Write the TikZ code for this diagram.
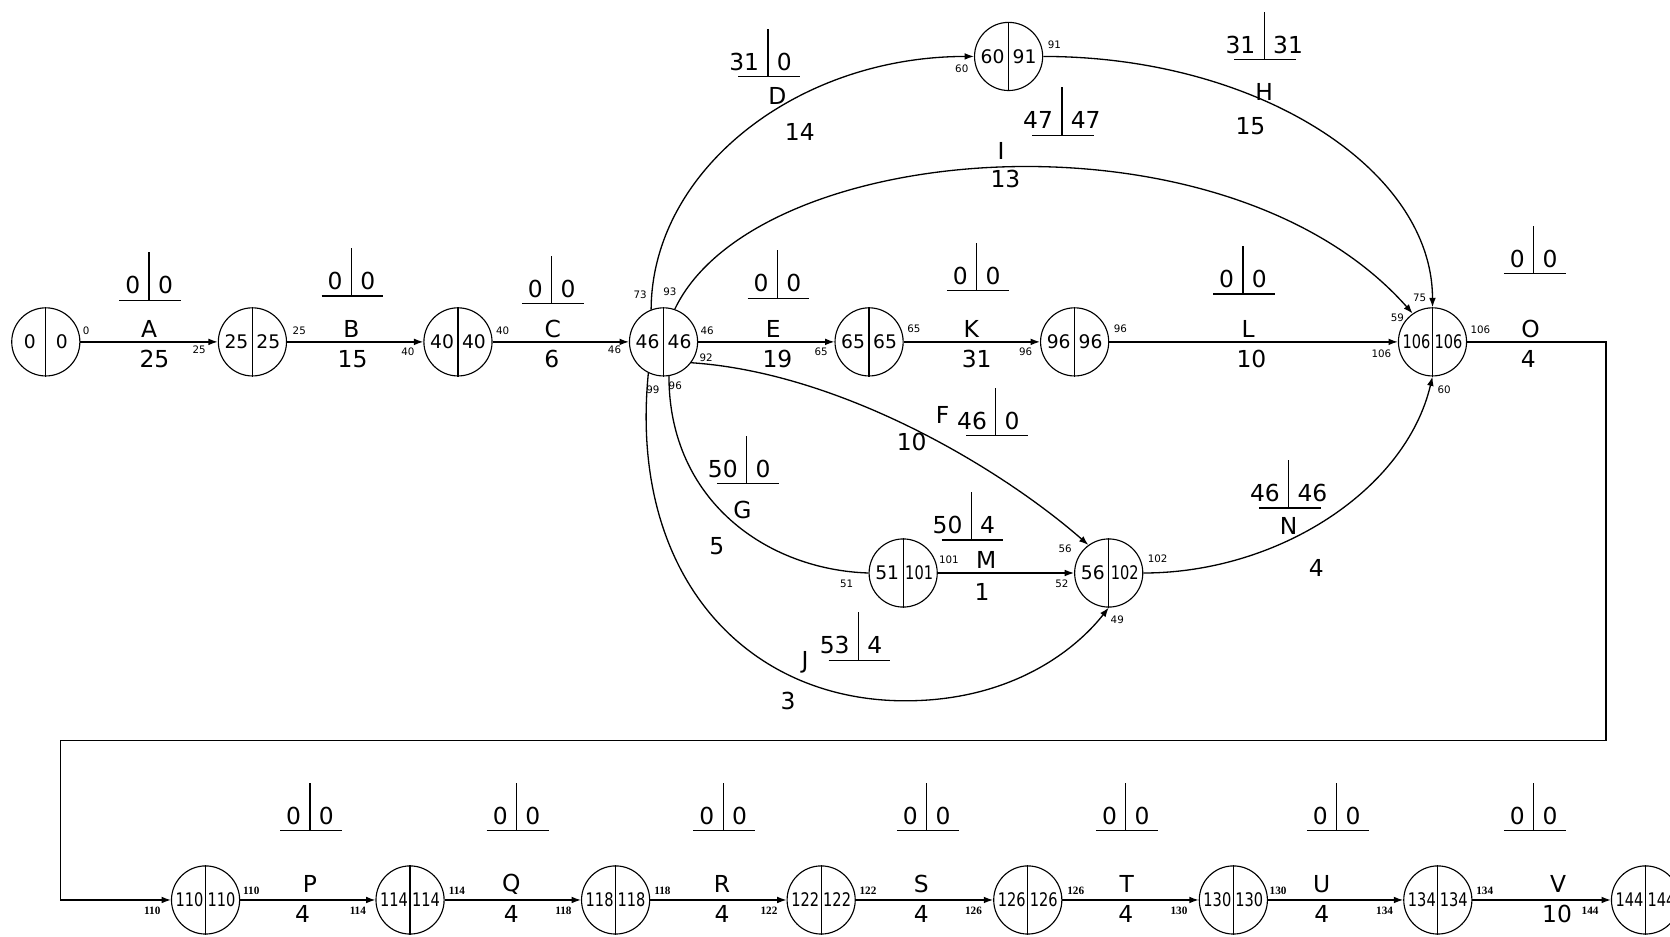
\documentclass[tikz,border=0pt]{standalone}
\usepackage{fontspec}
\setmainfont{DejaVu Sans}
\newfontfamily\smallserif{Liberation Serif}
\usetikzlibrary{arrows.meta}
\tikzset{
 ln/.style={line width=0.7pt},
 arr/.style={ln, -{Latex[length=5pt,width=3.6pt]}},
 ev/.style={circle, draw, line width=0.6pt, minimum size=1.28cm, inner sep=0pt},
 evnum/.style={inner sep=0pt, font=\fontsize{10}{10}\selectfont},
 lbl/.style={inner sep=0pt, font=\fontsize{12.5}{13}\selectfont},
 tnum/.style={inner sep=0pt, font=\fontsize{12.5}{13}\selectfont},
 sm/.style={inner sep=0pt, font=\fontsize{5.5}{6}\selectfont},
 smb/.style={inner sep=0pt, font=\smallserif\bfseries\fontsize{6}{6}\selectfont},
}
\newcommand\nw[1]{\scalebox{0.78}[1]{#1}}
\newcommand\evnode[5]{%
 \node[ev] (#1) at (#2,#3) {};
 \draw[ln] (#1.north) -- (#1.south);
 \node[evnum] (#1-l) at ([xshift=-0.3cm]#1.center) {#4};
 \node[evnum] (#1-r) at ([xshift=0.3cm]#1.center) {#5};
}
\newcommand\tallyat[5]{%
 \coordinate (#1) at (#2,#3);
 \draw[ln] ([xshift=-0.56cm]#1) -- ([xshift=0.6cm]#1);
 \draw[ln] (#1) -- ([yshift=0.9cm]#1);
 \node[tnum, anchor=base east] (#1-l) at ([xshift=-0.16cm,yshift=0.12cm]#1) {#4};
 \node[tnum, anchor=base west] (#1-r) at ([xshift=0.16cm,yshift=0.12cm]#1) {#5};
}
\begin{document}
\begin{tikzpicture}[x=0.02cm,y=-0.02cm]
\useasboundingbox (0,0) rectangle (1568,879);
% ---- events
\evnode{n0}{43}{321}{0}{0}
\evnode{n25}{237}{321}{25}{25}
\evnode{n40}{430}{321}{40}{40}
\evnode{n46}{623}{321}{46}{46}
\evnode{n65}{816}{321}{65}{65}
\evnode{n96}{1009}{321}{96}{96}
\evnode{n106}{1345}{321}{\nw{106}}{\nw{106}}
\evnode{n60}{947}{53}{60}{91}
\evnode{n51}{848}{538}{51}{\nw{101}}
\evnode{n56}{1041}{538}{56}{\nw{102}}
\evnode{n110}{193}{845}{\nw{110}}{\nw{110}}
\evnode{n114}{385}{845}{\nw{114}}{\nw{114}}
\evnode{n118}{578}{845}{\nw{118}}{\nw{118}}
\evnode{n122}{771}{845}{\nw{122}}{\nw{122}}
\evnode{n126}{965}{845}{\nw{126}}{\nw{126}}
\evnode{n130}{1158}{845}{\nw{130}}{\nw{130}}
\evnode{n134}{1350}{845}{\nw{134}}{\nw{134}}
\evnode{n144}{1545}{845}{\nw{144}}{\nw{144}}
% ---- straight activities
\draw[arr] (n0.east) -- (n25.west);
\draw[arr] (n25.east) -- (n40.west);
\draw[arr] (n40.east) -- (n46.west);
\draw[arr] (n46.east) -- (n65.west);
\draw[arr] (n65.east) -- (n96.west);
\draw[arr] (n96.east) -- (n106.west);
\draw[arr] (n51.east) -- (n56.west);
\draw[arr] (n110.east) -- (n114.west);
\draw[arr] (n114.east) -- (n118.west);
\draw[arr] (n118.east) -- (n122.west);
\draw[arr] (n122.east) -- (n126.west);
\draw[arr] (n126.east) -- (n130.west);
\draw[arr] (n130.east) -- (n134.west);
\draw[arr] (n134.east) -- (n144.west);
% ---- O (wrap-around)
\coordinate (c1) at (1508,321);
\coordinate (c2) at (1508,695);
\coordinate (c3) at (57,695);
\coordinate (c4) at (57,845);
\draw[arr] (n106.east) -- (c1) -- (c2) -- (c3) -- (c4) -- (n110.west);
% ---- curved activities
\draw[arr] (n46.111) .. controls (612,160) and (748,53) .. (n60.west);
\draw[arr] (n60.east) .. controls (1181,53) and (1345,159) .. (n106.north);
\draw[arr] (n46.71) .. controls (710,130) and (1150,95) .. (n106.125);
\draw[arr] (n46.-37) .. controls (790,350) and (940,440) .. (n56.126);
\draw[ln] (n46.-81) .. controls (628,470) and (720,535) .. (n51.west);
\coordinate (jb) at (850,658);
\draw[arr] (n46.-116) .. controls (590,540) and (700,658) .. (jb) .. controls (950,658) and (1010,610) .. (n56.south);
\draw[arr] (n56.east) .. controls (1200,538) and (1320,460) .. (n106.south);
% ---- tallies
\tallyat{tA}{140}{282}{0}{0}
\tallyat{tB}{330}{278}{0}{0}
\tallyat{tC}{518}{285}{0}{0}
\tallyat{tE}{730}{280}{0}{0}
\tallyat{tK}{917}{273}{0}{0}
\tallyat{tL}{1167}{276}{0}{0}
\tallyat{tO}{1440}{257}{0}{0}
\tallyat{tD}{721}{72}{31}{0}
\tallyat{tH}{1187}{56}{31}{31}
\tallyat{tI}{997}{127}{47}{47}
\tallyat{tF}{935}{409}{46}{0}
\tallyat{tG}{701}{454}{50}{0}
\tallyat{tM}{912}{507}{50}{4}
\tallyat{tJ}{806}{620}{53}{4}
\tallyat{tN}{1210}{477}{46}{46}
\tallyat{tP}{291}{780}{0}{0}
\tallyat{tQ}{485}{780}{0}{0}
\tallyat{tR}{679}{780}{0}{0}
\tallyat{tS}{870}{780}{0}{0}
\tallyat{tT}{1057}{780}{0}{0}
\tallyat{tU}{1255}{780}{0}{0}
\tallyat{tV}{1440}{780}{0}{0}
% ---- activity names and durations
\node[lbl] (lA) at (140,309) {A}; \node[lbl] (dA) at (145,337) {25};
\node[lbl] (lB) at (330,309) {B}; \node[lbl] (dB) at (331,337) {15};
\node[lbl] (lC) at (519,309) {C}; \node[lbl] (dC) at (518,337) {6};
\node[lbl] (lE) at (726,309) {E}; \node[lbl] (dE) at (730,337) {19};
\node[lbl] (lK) at (912,309) {K}; \node[lbl] (dK) at (917,337) {31};
\node[lbl] (lL) at (1172,309) {L}; \node[lbl] (dL) at (1175,337) {10};
\node[lbl] (lO) at (1437,309) {O}; \node[lbl] (dO) at (1435,337) {4};
\node[lbl] (lD) at (730,90) {D}; \node[lbl] (dD) at (751,124) {14};
\node[lbl] (lH) at (1187,86) {H}; \node[lbl] (dH) at (1174,118) {15};
\node[lbl] (lI) at (940,142) {I}; \node[lbl] (dI) at (944,168) {13};
\node[lbl] (lF) at (885,390) {F}; \node[lbl] (dF) at (856,415) {10};
\node[lbl] (lG) at (697,479) {G}; \node[lbl] (dG) at (673,513) {5};
\node[lbl] (lM) at (926,526) {M}; \node[lbl] (dM) at (922,556) {1};
\node[lbl] (lJ) at (756,622) {J}; \node[lbl] (dJ) at (740,658) {3};
\node[lbl] (lN) at (1210,494) {N}; \node[lbl] (dN) at (1236,533) {4};
\node[lbl] (lP) at (291,830) {P}; \node[lbl] (dP) at (284,858) {4};
\node[lbl] (lQ) at (480,830) {Q}; \node[lbl] (dQ) at (480,858) {4};
\node[lbl] (lR) at (678,830) {R}; \node[lbl] (dR) at (678,858) {4};
\node[lbl] (lS) at (865,830) {S}; \node[lbl] (dS) at (865,858) {4};
\node[lbl] (lT) at (1058,830) {T}; \node[lbl] (dT) at (1057,858) {4};
\node[lbl] (lU) at (1241,830) {U}; \node[lbl] (dU) at (1241,858) {4};
\node[lbl] (lV) at (1463,830) {V}; \node[lbl] (dV) at (1462,858) {10};
% ---- small time labels
\node[sm] (s1) at (81,311) {0};
\node[sm] (s2) at (187,328) {25}; \node[sm] (s3) at (281,311) {25};
\node[sm] (s4) at (383,330) {40}; \node[sm] (s5) at (472,311) {40};
\node[sm] (s6) at (577,328) {46}; \node[sm] (s7) at (664,311) {46};
\node[sm] (s8) at (663,336) {92}; \node[sm] (s9) at (601,277) {73};
\node[sm] (s10) at (629,274) {93}; \node[sm] (s11) at (613,366) {99};
\node[sm] (s12) at (634,362) {96};
\node[sm] (s13) at (771,330) {65}; \node[sm] (s14) at (858,309) {65};
\node[sm] (s15) at (963,330) {96}; \node[sm] (s16) at (1052,309) {96};
\node[sm] (s17) at (1297,332) {106}; \node[sm] (s18) at (1390,310) {106};
\node[sm] (s19) at (1312,298) {59}; \node[sm] (s20) at (1333,280) {75};
\node[sm] (s21) at (1356,366) {60};
\node[sm] (s22) at (903,65) {60}; \node[sm] (s23) at (990,42) {91};
\node[sm] (s24) at (795,548) {51}; \node[sm] (s25) at (891,526) {101};
\node[sm] (s26) at (1000,515) {56}; \node[sm] (s27) at (997,548) {52};
\node[sm] (s28) at (1049,582) {49}; \node[sm] (s29) at (1087,525) {102};
\node[smb] (b1) at (143,855) {110}; \node[smb] (b2) at (236,836) {110};
\node[smb] (b3) at (336,855) {114}; \node[smb] (b4) at (429,836) {114};
\node[smb] (b5) at (529,855) {118}; \node[smb] (b6) at (622,836) {118};
\node[smb] (b7) at (722,855) {122}; \node[smb] (b8) at (815,836) {122};
\node[smb] (b9) at (914,855) {126}; \node[smb] (b10) at (1010,836) {126};
\node[smb] (b11) at (1107,855) {130}; \node[smb] (b12) at (1200,836) {130};
\node[smb] (b13) at (1300,855) {134}; \node[smb] (b14) at (1394,836) {134};
\node[smb] (b15) at (1493,855) {144};
\end{tikzpicture}
\end{document}
